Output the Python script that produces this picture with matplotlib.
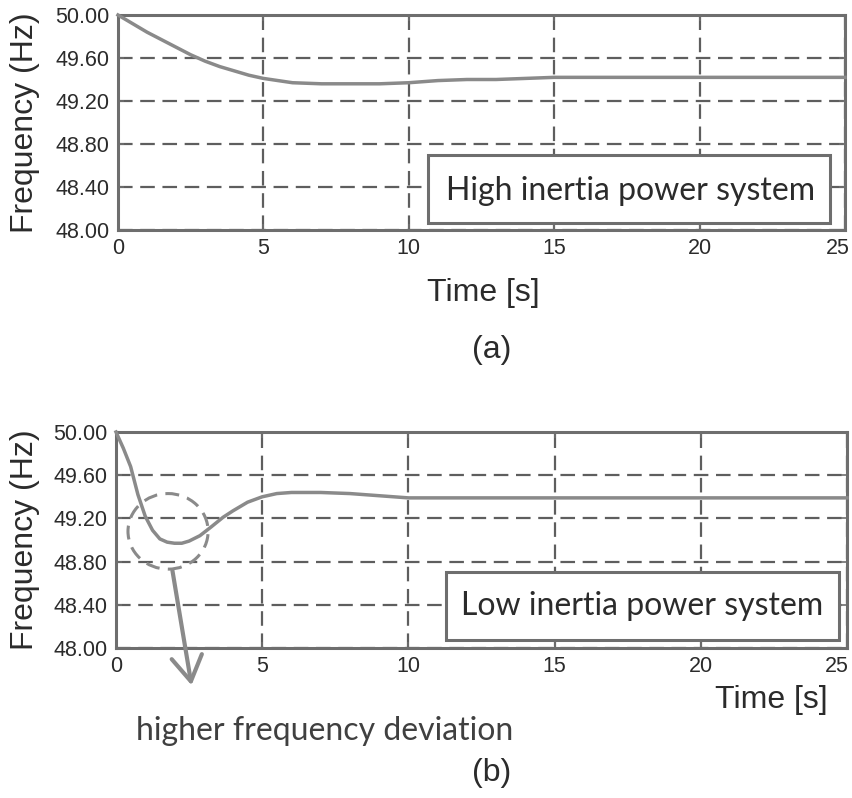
import matplotlib
matplotlib.use("Agg")
import matplotlib.pyplot as plt
from matplotlib.patches import Ellipse, Rectangle, FancyArrowPatch
from matplotlib.transforms import ScaledTranslation

plt.rcParams['lines.scale_dashes'] = False
plt.rcParams['font.family'] = ['Liberation Sans', 'DejaVu Sans']

# ---------------- data ----------------
t_high = [0, 0.5, 1, 1.5, 2, 2.5, 3, 3.5, 4, 4.5, 5, 5.5, 6, 7, 8, 9, 10, 11, 12, 13, 14, 15, 17, 20, 25]
f_high = [50.00, 49.92, 49.84, 49.77, 49.70, 49.63, 49.57, 49.52, 49.48, 49.44, 49.41, 49.39, 49.37,
          49.36, 49.36, 49.36, 49.37, 49.39, 49.40, 49.40, 49.41, 49.42, 49.42, 49.42, 49.42]

t_low = [0, 0.25, 0.5, 0.75, 1.0, 1.25, 1.5, 1.75, 2.0, 2.25, 2.5, 2.87, 3.25, 3.66, 4.0, 4.5,
         5.0, 5.5, 6, 7, 8, 9, 10, 12, 15, 20, 25]
f_low = [50.00, 49.85, 49.68, 49.42, 49.22, 49.09, 49.01, 48.98, 48.97, 48.97, 48.99, 49.04, 49.12,
         49.21, 49.27, 49.35, 49.40, 49.43, 49.44, 49.44, 49.43, 49.41, 49.39, 49.39, 49.39, 49.39, 49.39]

x_ticks = [0, 5, 10, 15, 20, 25]
y_ticks = [48.00, 48.40, 48.80, 49.20, 49.60, 50.00]

label_high = "High inertia power system"
label_low = "Low inertia power system"
annot_text = "higher frequency deviation"
xlabel = "Time [s]"
ylabel = "Frequency (Hz)"

# ---------------- style ----------------
curve_c = '#8a8a8a'
spine_c = '#6e6e6e'
grid_c = '#5e5e5e'
text_c = '#2b2b2b'
box_font = ['Lato', 'DejaVu Sans']

fig = plt.figure(figsize=(8.53, 7.98), dpi=100)
ax1 = fig.add_axes([118/853, 1-230/798, 727/853, 215/798])
ax2 = fig.add_axes([116/853, 1-648/798, 731/853, 216/798])


def style(ax, last_shift_px):
    ax.set_xlim(0, 25)
    ax.set_ylim(48, 50)
    ax.set_xticks(x_ticks)
    ax.set_yticks(y_ticks)
    ax.set_yticklabels([f"{v:.2f}" for v in y_ticks])
    ax.grid(True, color=grid_c, linewidth=1.6, linestyle=(0, (10.5, 5.5)))
    for s in ax.spines.values():
        s.set_color(spine_c)
        s.set_linewidth(2.2)
    ax.tick_params(direction='in', length=4, width=1.2, color=spine_c,
                   top=True, right=True, labelsize=15.5, labelcolor=text_c, pad=6)
    ax.set_axisbelow(True)
    last = ax.get_xticklabels()[-1]
    last.set_horizontalalignment('right')
    last.set_transform(last.get_transform() +
                       ScaledTranslation(last_shift_px/100, 0, fig.dpi_scale_trans))


style(ax1, 5)
style(ax2, 2)

ax1.plot(t_high, f_high, color=curve_c, linewidth=2.5, zorder=3, clip_on=False)
ax2.plot(t_low, f_low, color=curve_c, linewidth=2.5, zorder=3, clip_on=False)

ax1.set_ylabel(ylabel, fontsize=23, color=text_c)
ax2.set_ylabel(ylabel, fontsize=23, color=text_c)
ax1.yaxis.set_label_coords((40-118)/727, 0.5)
ax2.yaxis.set_label_coords((40-116)/731, 0.5)

# legend-like boxes
ax1.add_patch(Rectangle((10.66, 48.065), 24.5-10.66, 48.70-48.065, facecolor='white',
                        edgecolor=spine_c, linewidth=2.2, zorder=4))
ax2.add_patch(Rectangle((11.29, 48.074), 24.73-11.29, 48.70-48.074, facecolor='white',
                        edgecolor=spine_c, linewidth=2.2, zorder=4))
fig.text(631/853, 1-200/798, label_high, fontsize=23, family=box_font, color=text_c,
         ha='center', va='baseline', zorder=6)
fig.text(642/853, 1-615/798, label_low, fontsize=23, family=box_font, color=text_c,
         ha='center', va='baseline', zorder=6)

# dashed circle around minimum
ax2.add_patch(Ellipse((1.78, 49.08), 2.74, 0.70, fill=False, edgecolor=curve_c,
                      linewidth=2.2, linestyle=(0, (10, 6)), zorder=4, clip_on=False))

# arrow
fig.patches.append(FancyArrowPatch(
    (172/853, 1-568/798), (192/853, 1-688/798), transform=fig.transFigure,
    arrowstyle='->,head_length=0.9,head_width=0.55', mutation_scale=20,
    color=curve_c, linewidth=3.0))

fig.text(483/853, 1-293/798, xlabel, fontsize=23, color=text_c, ha='center', va='center')
fig.text(771/853, 1-700/798, xlabel, fontsize=23, color=text_c, ha='center', va='center')
fig.text(325/853, 1-740/798, annot_text, fontsize=23, family=box_font, color='#404040',
         ha='center', va='baseline')
fig.text(492/853, 1-350/798, "(a)", fontsize=23, color=text_c, ha='center', va='center')
fig.text(492/853, 1-773/798, "(b)", fontsize=23, color=text_c, ha='center', va='center')

fig.savefig("out.png", dpi=100, facecolor='white')
